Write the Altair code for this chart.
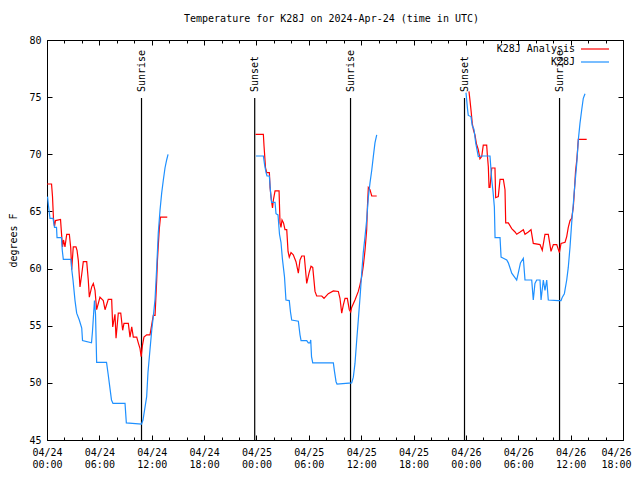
import altair as alt
import pandas as pd

FONT = "DejaVu Sans Mono"
TITLE = "Temperature for K28J on 2024-Apr-24 (time in UTC)"

# hours after 2024-04-24 00:00 UTC / temperature (deg F)
an_d1_h = [0.0, 0.52, 0.63, 0.74, 0.86, 0.97, 1.55, 1.66, 1.78, 1.89, 2.06, 2.26, 2.56, 2.72, 2.83,
           3.01, 3.32, 3.44, 3.59, 3.78, 3.98, 4.16, 4.55, 4.73, 4.85, 5.12, 5.31, 5.50, 5.69, 6.07,
           6.45, 6.65, 7.02, 7.41, 7.53, 7.79, 7.91, 8.17, 8.45, 8.67, 8.82, 9.32, 9.51, 9.71, 9.89,
           10.28, 10.46, 10.66, 10.79, 10.94, 11.11, 11.42, 11.80, 12.00, 12.18, 12.38, 12.57, 12.66,
           12.75, 12.87, 13.00, 13.78]
an_d1_t = [67.4, 67.4, 66.3, 64.4, 63.7, 64.2, 64.3, 63.1, 61.9, 62.5, 61.9, 63.0, 63.0, 61.8, 59.9,
           61.9, 61.9, 61.6, 60.7, 58.4, 59.5, 60.6, 60.6, 59.0, 57.5, 58.4, 58.7, 58.1, 56.4, 57.5,
           57.2, 56.4, 57.3, 57.3, 54.9, 56.0, 53.9, 56.1, 56.1, 54.6, 55.2, 55.2, 54.0, 54.9, 54.0,
           54.0, 53.5, 53.0, 52.3, 53.3, 54.0, 54.2, 54.2, 55.1, 55.9, 55.9, 59.0, 60.8,
           62.0, 63.5, 64.5, 64.5]
an_d2_h = [23.89, 24.79, 24.87, 25.04, 25.18, 25.48, 25.56, 25.71, 25.84, 25.94, 26.13, 26.59, 26.70,
           26.81, 26.93, 27.10, 27.27, 27.47, 27.62, 27.76, 27.96, 28.22, 28.53, 28.80, 28.99, 29.19,
           29.48, 29.76, 30.02, 30.25, 30.45, 30.71, 30.90, 31.48, 31.74, 32.23, 32.81, 33.38, 33.57,
           33.77, 33.95, 34.15, 34.41, 34.64, 34.80, 34.91, 35.29, 35.67, 35.87, 36.06, 36.24, 36.44,
           36.63, 36.72, 36.82, 37.01, 37.21, 37.78]
an_d2_t = [71.75, 71.75, 70.7, 68.8, 68.4, 68.4, 67.1, 66.0, 65.3, 66.0, 66.8, 66.8, 64.0,
           63.6, 64.25, 64.0, 63.4, 63.4, 61.5, 61.0, 61.4, 61.2, 60.6, 59.6, 60.75, 61.1,
           61.1, 58.7, 59.6, 60.2, 60.1, 58.0, 57.6, 57.6, 57.4, 57.8, 58.05, 58.0, 57.4,
           56.1, 56.8, 57.4, 57.4, 56.4, 56.2, 56.6, 57.25, 58.0, 58.6, 59.3, 60.2, 61.6,
           63.4, 65.5, 67.1, 66.9, 66.35, 66.35]
an_d3_h = [48.35, 48.47, 48.58, 48.73, 48.87, 49.04, 49.21, 49.42, 49.61, 49.81, 49.99, 50.38, 50.47,
           50.57, 50.65, 50.76, 50.96, 51.33, 51.41, 51.71, 51.91, 52.29, 52.48, 52.56, 52.86, 53.25,
           53.63, 53.82, 54.21, 54.58, 54.77, 55.15, 55.46, 55.72, 56.49, 56.75, 57.06, 57.44, 57.75,
           58.02, 58.41, 58.71, 58.90, 59.36, 59.55, 59.73, 59.93, 60.12, 60.31, 60.45, 60.56, 60.73,
           60.88, 61.84]
an_d3_t = [75.5, 74.7, 73.9, 72.7, 72.1, 71.7, 70.9, 70.4, 69.6, 69.8, 70.8, 70.8, 69.8,
           68.9, 67.1, 67.1, 68.8, 68.8, 66.2, 66.3, 67.8, 67.8, 66.9, 64.0, 64.0, 63.5,
           63.2, 63.0, 63.2, 63.4, 63.0, 63.2, 63.4, 62.2, 62.1, 61.6, 63.0, 63.0, 61.5,
           62.1, 62.1, 61.4, 62.2, 62.3, 62.8, 63.6, 64.2, 64.4, 65.4, 67.0, 68.5, 69.7,
           71.3, 71.3]

k_d1_h = [0.06, 0.17, 0.34, 0.69, 0.86, 1.09, 1.15, 1.66, 1.75, 1.87, 2.75, 2.84, 2.98, 3.21, 3.40,
          3.70, 3.98, 4.07, 5.10, 5.21, 5.44, 5.56, 5.69, 6.82, 7.00, 7.22, 7.39, 7.56, 8.94, 9.09,
          10.83, 11.00, 11.42, 11.57, 11.80, 12.00, 12.18, 12.38, 12.57, 12.75, 12.95, 13.14, 13.33,
          13.52, 13.71, 13.87]
k_d1_t = [66.3, 65.5, 64.4, 64.4, 63.6, 63.6, 62.7, 62.7, 61.6, 60.8, 60.8, 59.9, 59.0, 57.2, 56.1,
          55.5, 54.8, 53.7, 53.5, 54.5, 57.2, 56.0, 51.8, 51.8, 50.8, 49.5, 48.5, 48.2, 48.2, 46.5,
          46.4, 46.75, 48.8, 50.9, 52.9, 54.6, 55.8, 57.3, 60.1, 63.1, 65.1, 66.6, 67.75,
          68.8, 69.5, 70.0]
k_d2_h = [23.95, 24.79, 24.93, 25.10, 25.21, 25.48, 25.61, 25.73, 26.13, 26.24, 26.47, 26.64, 26.81,
          26.98, 27.21, 27.38, 27.76, 27.90, 28.04, 28.80, 28.99, 29.11, 29.76, 29.94, 30.14, 30.22,
          30.31, 30.45, 32.81, 32.94, 33.12, 33.23, 34.91, 35.10, 35.29, 35.49, 35.67, 35.87, 36.06,
          36.24, 36.44, 36.63, 36.82, 37.01, 37.21, 37.39, 37.58, 37.78]
k_d2_t = [69.85, 69.85, 69.1, 68.4, 68.1, 68.1, 66.7, 65.8, 65.8, 64.8, 64.7, 63.0, 62.3,
          60.8, 59.3, 57.25, 57.2, 56.2, 55.5, 55.4, 54.2, 53.7, 53.7, 53.5, 53.5, 53.75,
          52.3, 51.75, 51.75, 51.0, 50.1, 49.9, 50.0, 50.5, 51.7, 53.75, 55.5, 57.5, 59.6,
          61.4, 62.8, 64.25, 66.25, 67.5, 68.6, 69.8, 71.0, 71.7]
k_d3_h = [48.01, 48.18, 48.27, 48.58, 48.73, 48.92, 49.12, 49.42, 49.81, 50.76, 50.96, 51.10, 51.26,
          51.34, 51.91, 52.03, 52.29, 52.68, 52.86, 53.06, 53.25, 53.82, 54.00, 54.25, 54.58, 54.77,
          55.54, 55.72, 55.91, 56.11, 56.49, 56.61, 56.87, 57.06, 57.26, 57.44, 58.59, 58.90, 59.05,
          59.28, 59.55, 59.73, 59.93, 60.12, 60.31, 60.43, 60.56, 60.70, 60.88, 61.07, 61.27, 61.45,
          61.65]
k_d3_t = [75.4, 74.0, 73.4, 73.3, 72.5, 72.2, 71.0, 69.8, 69.85, 69.85, 67.75, 66.8, 65.4,
          62.7, 62.7, 61.0, 60.9, 60.75, 60.5, 60.05, 59.6, 59.0, 59.6, 60.5, 60.9, 59.0,
          59.0, 57.25, 58.7, 59.0, 59.0, 57.25, 59.0, 58.1, 59.0, 57.25, 57.2, 57.2, 57.5,
          57.8, 59.0, 60.1, 61.9, 64.0, 65.7, 66.9, 68.0, 69.2, 71.25, 72.7, 73.9, 74.9,
          75.3]

event_hours = [10.83, 23.80, 34.78, 47.84, 58.73]
event_labels = ["Sunrise", "Sunset", "Sunrise", "Sunset", "Sunrise"]

x_major = [0, 6, 12, 18, 24, 30, 36, 42, 48, 54, 60, 66]
x_minor = list(range(0, 67, 2))
y_ticks = [45, 50, 55, 60, 65, 70, 75, 80]

series_names = ["K28J Analysis", "K28J"]
series_colors = ["#ff0000", "#1e90ff"]


def frame(parts):
    rows = []
    for seg, (hs, ts) in enumerate(parts):
        for h, t in zip(hs, ts):
            rows.append({"h": h, "t": t, "seg": seg})
    return pd.DataFrame(rows)


an_df = frame([(an_d1_h, an_d1_t), (an_d2_h, an_d2_t), (an_d3_h, an_d3_t)])
k_df = frame([(k_d1_h, k_d1_t), (k_d2_h, k_d2_t), (k_d3_h, k_d3_t)])
ev_df = pd.DataFrame({"h": event_hours, "label": event_labels})

W, H = 576, 400
xs = alt.Scale(domain=[0, 66], nice=False, zero=False)
ys = alt.Scale(domain=[45, 80], nice=False, zero=False)

x_label_expr = ("['04/' + (24 + floor(datum.value / 24)), "
                "((datum.value % 24) < 10 ? '0' : '') + (datum.value % 24) + ':00']")

x_main_axis = alt.Axis(orient="bottom", values=x_major, tickSize=0, domain=False, grid=False,
                       labelExpr=x_label_expr, labelFont=FONT, labelFontSize=10, labelColor="black",
                       labelPadding=7, labelLineHeight=12, labelBaseline="top", labelOverlap=False,
                       labelFlush=False, title=None,
                       labelOffset=alt.condition("datum.value >= 66", alt.value(-7), alt.value(0)))
y_main_axis = alt.Axis(orient="left", values=y_ticks, tickSize=0, domain=False, grid=False,
                       labelFont=FONT, labelFontSize=10, labelColor="black", labelPadding=6,
                       labelOverlap=False, labelFlush=False,
                       title="degrees F", titleFont=FONT, titleFontSize=10, titleFontWeight="normal",
                       titleColor="black", titleX=-34, titleY=H / 2, titleAngle=270,
                       titleAlign="center", titleBaseline="middle")


def tick_axis(orient, offset, values, size):
    return alt.Axis(orient=orient, offset=offset, values=values, tickSize=size, labels=False,
                    domain=False, grid=False, title=None, tickColor="black", tickWidth=1)


base_pts = alt.Chart(ev_df).mark_point(opacity=0, size=1)

tick_layers = [
    base_pts.encode(x=alt.X("h:Q", scale=xs, axis=tick_axis("top", -H, x_major, 5))),
    base_pts.encode(x=alt.X("h:Q", scale=xs, axis=tick_axis("top", -H, x_minor, 3))),
    base_pts.encode(x=alt.X("h:Q", scale=xs, axis=tick_axis("bottom", -H, x_major, 5))),
    base_pts.encode(x=alt.X("h:Q", scale=xs, axis=tick_axis("bottom", -H, x_minor, 3))),
]
ytick_df = pd.DataFrame({"t": y_ticks})
base_y = alt.Chart(ytick_df).mark_point(opacity=0, size=1)
tick_layers += [
    base_y.encode(y=alt.Y("t:Q", scale=ys, axis=tick_axis("right", -W, y_ticks, 5))),
    base_y.encode(y=alt.Y("t:Q", scale=ys, axis=tick_axis("left", -W, y_ticks, 5))),
]

rules = alt.Chart(ev_df).mark_rule(color="black", strokeWidth=1.2).encode(
    x=alt.X("h:Q", scale=xs, axis=None), y=alt.value(58), y2=alt.value(H))
ev_text = alt.Chart(ev_df).mark_text(angle=270, align="left", baseline="middle", font=FONT,
                                     fontSize=10, color="black").encode(
    x=alt.X("h:Q", scale=xs, axis=None), y=alt.value(52), text="label:N")

red = alt.Chart(an_df).mark_line(color=series_colors[0], strokeWidth=1.2).encode(
    x=alt.X("h:Q", scale=xs, axis=x_main_axis),
    y=alt.Y("t:Q", scale=ys, axis=y_main_axis),
    detail="seg:N", order="h:Q")
blue = alt.Chart(k_df).mark_line(color=series_colors[1], strokeWidth=1.2).encode(
    x=alt.X("h:Q", scale=xs, axis=None),
    y=alt.Y("t:Q", scale=ys, axis=None),
    detail="seg:N", order="h:Q")

one = pd.DataFrame({"a": [0]})
title = alt.Chart(one).mark_text(text=TITLE, font=FONT, fontSize=10, color="black",
                                 align="center", baseline="middle").encode(
    x=alt.value(284.5), y=alt.value(-21))

legend_layers = []
for i, (name, col) in enumerate(zip(series_names, series_colors)):
    yy = 9 + 13 * i
    legend_layers.append(alt.Chart(one).mark_text(text=name, font=FONT, fontSize=10, color="black",
                                                  align="right", baseline="middle").encode(
        x=alt.value(528), y=alt.value(yy)))
    legend_layers.append(alt.Chart(one).mark_rule(color=col, strokeWidth=1.2).encode(
        x=alt.value(534), x2=alt.value(562), y=alt.value(yy)))

chart = alt.layer(
    *tick_layers, rules, ev_text, red, blue, title, *legend_layers
).resolve_axis(x="independent", y="independent").properties(
    width=W, height=H,
    autosize=alt.AutoSizeParams(type="none"),
    padding={"left": 39, "top": 32, "right": 9, "bottom": 31},
).configure_view(stroke="black", strokeWidth=1)

chart.save("out.html", embed_options={"renderer": "svg", "actions": False})
